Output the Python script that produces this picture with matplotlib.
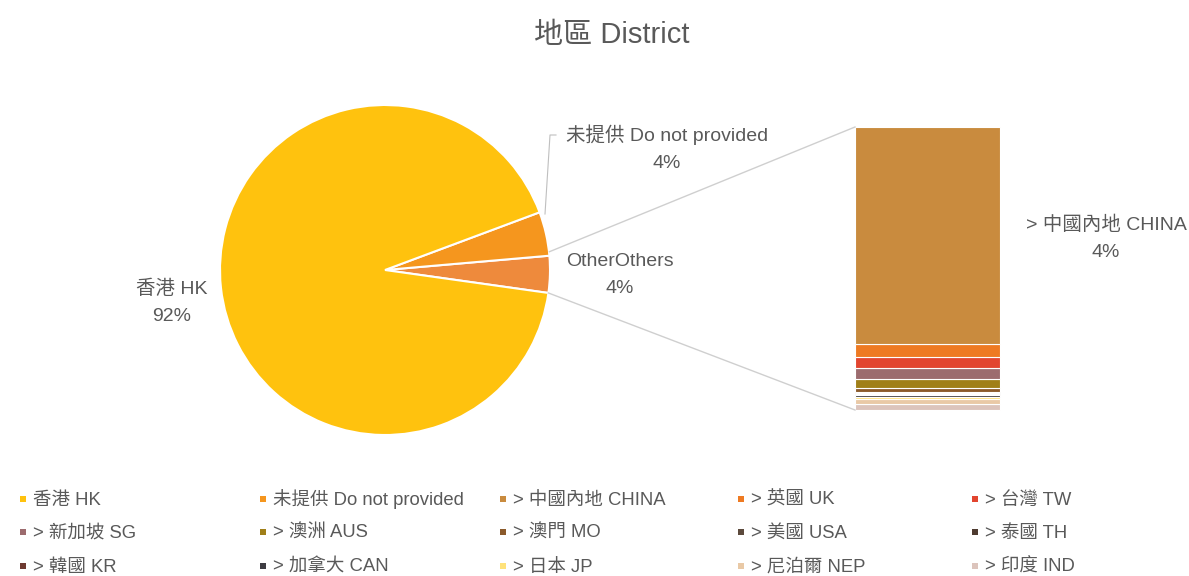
import matplotlib
matplotlib.use("Agg")
import matplotlib.pyplot as plt
from matplotlib.patches import Rectangle
import numpy as np

FONT = ['Liberation Sans', 'Noto Sans CJK TC', 'DejaVu Sans']
plt.rcParams['font.family'] = FONT
TXT = '#595959'

# ---- data (percent of total) ----
pie_labels = ['香港 HK', '未提供 Do not provided', 'OtherOthers']
pie_values = [92.0, 4.3]          # HK, Do not provided ; "Others" = sum of bar values
pie_pct_labels = ['92%', '4%', '4%']
pie_colors = ['#FFC20E', '#F5961E', '#EE8A3C']

bar_labels = ['> 中國內地 CHINA', '> 英國 UK', '> 台灣 TW', '> 新加坡 SG', '> 澳洲 AUS',
              '> 澳門 MO', '> 美國 USA', '> 泰國 TH', '> 韓國 KR', '> 加拿大 CAN',
              '> 日本 JP', '> 尼泊爾 NEP', '> 印度 IND']
bar_values = [2.76, 0.16, 0.14, 0.14, 0.12, 0.05, 0.015, 0.015, 0.015, 0.015, 0.03, 0.07, 0.07]
bar_pct_label = '4%'
bar_colors = ['#C98B3E', '#EE7A22', '#E2452F', '#9C6B6E', '#A07F18', '#8B5A2B',
              '#5C4A3C', '#4E3B30', '#6E3A30', '#3E3C42', '#FFE27A', '#E9C9A6', '#DCC4BC']

fig = plt.figure(figsize=(11.89, 5.76), dpi=100)
ax = fig.add_axes([0, 0, 1, 1])

others_total = sum(bar_values)
cx, cy, R = 385, 306, 165
wedges, _ = ax.pie([others_total, pie_values[1], pie_values[0]],
                   colors=[pie_colors[2], pie_colors[1], pie_colors[0]],
                   startangle=-8, center=(cx, cy), radius=R,
                   wedgeprops=dict(edgecolor='white', linewidth=1.5))
ax.set_xlim(0, 1189)
ax.set_ylim(0, 576)
ax.set_aspect('equal')
ax.axis('off')

# ---- bar of pie ----
bx, bw, btop, bbot = 927.5, 145, 449, 166
scale = (btop - bbot) / others_total
bottom = bbot
for val, col in zip(bar_values[::-1], bar_colors[::-1]):
    ax.bar(bx, val * scale, width=bw, bottom=bottom, color=col,
           edgecolor='white', linewidth=0.8)
    bottom += val * scale

# connector lines
a0 = np.deg2rad(-8)
a1 = np.deg2rad(-8 + others_total / 100 * 360)
ax.plot([cx + R * np.cos(a1), bx - bw / 2], [cy + R * np.sin(a1) + 4, btop], color='#CFCFCF', lw=1)
ax.plot([cx + R * np.cos(a0), bx - bw / 2], [cy + R * np.sin(a0), bbot], color='#CFCFCF', lw=1)

# ---- labels ----
fs = 14
ls = 1.75
ax.text(172, 274, pie_labels[0] + '\n' + pie_pct_labels[0], ha='center', va='center',
        fontsize=fs, color=TXT, linespacing=ls)
ax.text(667, 428, pie_labels[1] + '\n' + pie_pct_labels[1], ha='center', va='center',
        fontsize=fs, color=TXT, linespacing=ls)
ax.text(620, 301, pie_labels[2] + '\n' + pie_pct_labels[2], ha='center', va='center',
        fontsize=fs, color=TXT, linespacing=ls)
ax.text(1106, 338, bar_labels[0] + '\n' + bar_pct_label, ha='center', va='center',
        fontsize=fs, color=TXT, linespacing=ls)
# leader line for "Do not provided"
ax.plot([556, 550, 545], [441, 441, 362], color='#BFBFBF', lw=0.8)

ax.text(612, 541, '地區 District', ha='center', va='center', fontsize=21, color=TXT)

# ---- legend ----
leg_labels = pie_labels[:2] + bar_labels
leg_colors = pie_colors[:2] + bar_colors
col_x = [23, 263, 503, 741, 975]
row_y = [77, 44, 10]
for i, (lab, col) in enumerate(zip(leg_labels, leg_colors)):
    r, c = divmod(i, 5)
    x, y = col_x[c], row_y[r]
    ax.add_patch(Rectangle((x - 3, y - 3), 6, 6, color=col, lw=0))
    ax.text(x + 10, y - 6, lab, ha='left', va='baseline', fontsize=13.3, color=TXT)

fig.savefig('out.png', dpi=100)
